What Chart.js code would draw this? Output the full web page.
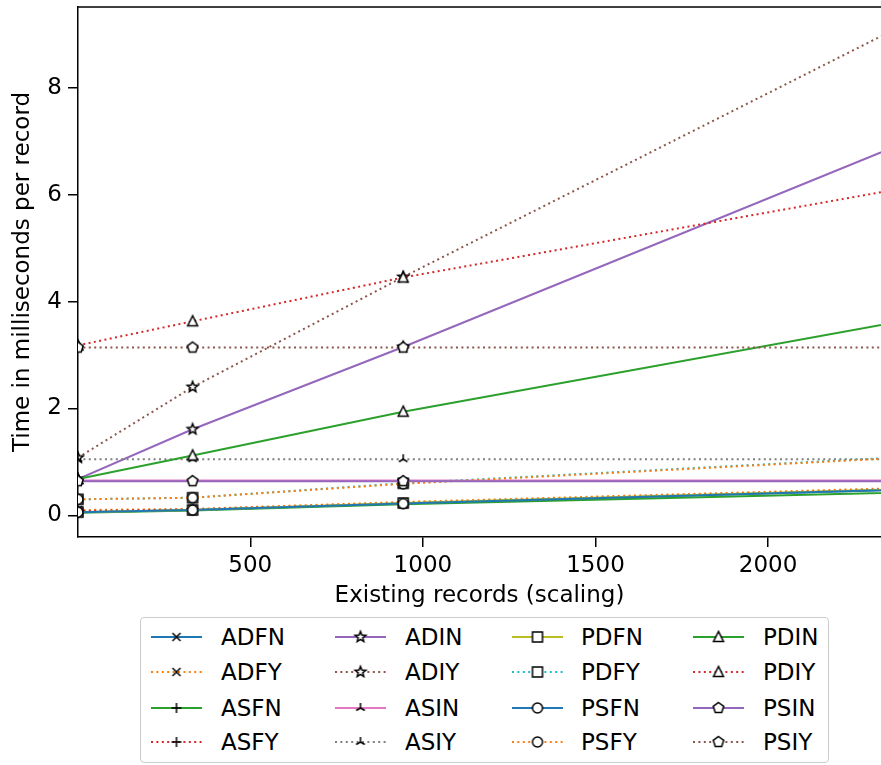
<!DOCTYPE html>
<html>
<head>
<meta charset="utf-8">
<script src="https://cdn.jsdelivr.net/npm/chart.js@4.4.0/dist/chart.umd.min.js"></script>
<style>
    body { margin: 0; background: #fff; }
    #wrap { position: relative; width: 881px; height: 765px; overflow: hidden; }
    #legendBox {
        position: absolute; left: 140px; top: 617px; width: 689px; height: 146px;
        border: 1px solid #cccccc; border-radius: 4px; box-sizing: border-box; background: #fff;
    }
    .handle { position: absolute; }
    .label {
        position: absolute; font-family: 'DejaVu Sans'; font-size: 23px;
        line-height: 28px; height: 28px; color: #000; white-space: nowrap;
    }
</style>
</head>
<body>
<div id="wrap">
    <canvas id="timingChart" width="881" height="765"></canvas>
    <div id="legendBox"></div>
</div>
<script>
// existing records (x) and time per record (ms) for every run
const xValues = [1, 333, 943, 2600];
const xTicks = [500, 1000, 1500, 2000];
const yTicks = [0, 2, 4, 6, 8];

const ADFN = [0.06, 0.10, 0.22, 0.52];
const ADFY = [0.10, 0.12, 0.25, 0.55];
const ASFN = [0.05, 0.09, 0.21, 0.46];
const ASFY = [0.08, 0.11, 0.23, 0.53];
const ADIN = [0.68, 1.61, 3.15, 7.51];
const ADIY = [1.08, 2.40, 4.46, 9.85];
const ASIN = [0.65, 0.65, 0.65, 0.65];
const ASIY = [1.05, 1.05, 1.05, 1.05];
const PDFN = [0.06, 0.10, 0.23, 0.53];
const PDFY = [0.30, 0.33, 0.60, 1.16];
const PSFN = [0.06, 0.10, 0.22, 0.52];
const PSFY = [0.30, 0.33, 0.59, 1.15];
const PDIN = [0.68, 1.12, 1.94, 3.88];
const PDIY = [3.18, 3.63, 4.45, 6.36];
const PSIN = [0.64, 0.64, 0.64, 0.64];
const PSIY = [3.14, 3.14, 3.14, 3.14];

const seriesNames = ['ADFN', 'ADFY', 'ASFN', 'ASFY', 'ADIN', 'ADIY', 'ASIN', 'ASIY',
                     'PDFN', 'PDFY', 'PSFN', 'PSFY', 'PDIN', 'PDIY', 'PSIN', 'PSIY'];
const seriesValues = [ADFN, ADFY, ASFN, ASFY, ADIN, ADIY, ASIN, ASIY,
                      PDFN, PDFY, PSFN, PSFY, PDIN, PDIY, PSIN, PSIY];

// matplotlib default colour cycle
const colors = ['#1f77b4', '#ff7f0e', '#2ca02c', '#d62728', '#9467bd', '#8c564b',
                '#e377c2', '#7f7f7f', '#bcbd22', '#17becf'];
const markers = ['x', 'x', 'plus', 'plus', 'star', 'star', 'tri', 'tri',
                 'square', 'square', 'circle', 'circle', 'triangle', 'triangle', 'pentagon', 'pentagon'];
const dotted = [false, true, false, true, false, true, false, true,
                false, true, false, true, false, true, false, true];

const LINE_W = 2;
const DOTS = [2, 3.4];

function makeMarker(kind) {
    const c = document.createElement('canvas');
    c.width = 16;
    c.height = 16;
    const g = c.getContext('2d');
    g.translate(8, 8);
    g.lineWidth = 1.5;
    g.strokeStyle = '#000';
    g.fillStyle = '#fff';
    g.beginPath();
    let fill = true;
    if (kind === 'x') {
        g.moveTo(-4, -4); g.lineTo(4, 4);
        g.moveTo(-4, 4); g.lineTo(4, -4);
        fill = false;
    } else if (kind === 'plus') {
        g.moveTo(-5, 0); g.lineTo(5, 0);
        g.moveTo(0, -5); g.lineTo(0, 5);
        fill = false;
    } else if (kind === 'tri') {
        g.moveTo(0, 0); g.lineTo(0, -5);
        g.moveTo(0, 0); g.lineTo(-4.3, 2.5);
        g.moveTo(0, 0); g.lineTo(4.3, 2.5);
        fill = false;
    } else if (kind === 'star') {
        for (let i = 0; i < 10; i++) {
            const r = i % 2 ? 2.4 : 5.6;
            const a = -Math.PI / 2 + i * Math.PI / 5;
            if (i === 0) g.moveTo(r * Math.cos(a), r * Math.sin(a));
            else g.lineTo(r * Math.cos(a), r * Math.sin(a));
        }
        g.closePath();
    } else if (kind === 'square') {
        g.rect(-5, -5, 10, 10);
    } else if (kind === 'circle') {
        g.arc(0, 0, 5, 0, Math.PI * 2);
    } else if (kind === 'triangle') {
        g.moveTo(0, -5.5); g.lineTo(-5, 4.5); g.lineTo(5, 4.5);
        g.closePath();
    } else if (kind === 'pentagon') {
        for (let i = 0; i < 5; i++) {
            const a = -Math.PI / 2 + i * 2 * Math.PI / 5;
            if (i === 0) g.moveTo(5.5 * Math.cos(a), 5.5 * Math.sin(a));
            else g.lineTo(5.5 * Math.cos(a), 5.5 * Math.sin(a));
        }
        g.closePath();
    }
    if (fill) g.fill();
    g.stroke();
    return c;
}

const markerImgs = markers.map(makeMarker);

const datasets = seriesNames.map((name, i) => ({
    label: name,
    data: xValues.map((x, k) => ({ x: x, y: seriesValues[i][k] })),
    borderColor: colors[i % 10],
    backgroundColor: colors[i % 10],
    borderWidth: LINE_W,
    borderDash: dotted[i] ? DOTS : [],
    pointStyle: markerImgs[i],
    pointRadius: 5,
    tension: 0,
    fill: false,
    clip: 0,
    order: seriesNames.length - 1 - i
}));

const font = { family: 'DejaVu Sans', size: 23 };
Chart.defaults.color = '#000';
Chart.defaults.font.family = 'DejaVu Sans';

const topSpine = {
    id: 'topSpine',
    afterDraw(chart) {
        const { ctx, chartArea } = chart;
        ctx.save();
        ctx.strokeStyle = '#000';
        ctx.lineWidth = 1.5;
        ctx.beginPath();
        ctx.moveTo(chartArea.left - 0.75, chartArea.top);
        ctx.lineTo(chartArea.right, chartArea.top);
        ctx.stroke();
        ctx.restore();
    }
};

const ctx = document.getElementById('timingChart').getContext('2d');
const chart = new Chart(ctx, {
    type: 'line',
    data: { datasets: datasets },
    options: {
        responsive: false,
        animation: false,
        devicePixelRatio: 1,
        events: [],
        layout: { autoPadding: false, padding: { top: 7, right: 0, bottom: 155, left: 0 } },
        plugins: {
            legend: { display: false },
            tooltip: { enabled: false }
        },
        scales: {
            x: {
                type: 'linear',
                min: 1,
                max: 2327,
                afterBuildTicks: s => { s.ticks = xTicks.map(v => ({ value: v })); },
                afterFit: s => {
                    s.height = 73;
                    s.paddingLeft = 0;
                    s.paddingRight = 0;
                },
                ticks: { font: font, padding: 5, maxRotation: 0, autoSkip: false, callback: v => String(v) },
                grid: { drawOnChartArea: false, drawTicks: true, tickLength: 10, color: '#000', lineWidth: 1.5 },
                border: { display: true, color: '#000', width: 1.5 },
                title: { display: true, text: 'Existing records (scaling)', font: font, padding: { top: 0, bottom: 0 } }
            },
            y: {
                type: 'linear',
                min: -0.405,
                max: 9.51,
                afterBuildTicks: s => { s.ticks = yTicks.map(v => ({ value: v })); },
                afterFit: s => {
                    s.width = 78;
                    s.paddingTop = 0;
                    s.paddingBottom = 0;
                },
                ticks: { font: font, padding: 6, callback: v => String(v) },
                grid: { drawOnChartArea: false, drawTicks: true, tickLength: 10, color: '#000', lineWidth: 1.5 },
                border: { display: true, color: '#000', width: 1.5 },
                title: { display: true, text: 'Time in milliseconds per record', font: font, padding: { top: 9, bottom: 0 } }
            }
        }
    },
    plugins: [topSpine]
});

// legend: 4 columns, filled column by column like the original
const handleX = [151, 335, 512, 693];
const textX = [221, 405, 581, 763];
const rowY = [637, 672, 708, 742];
const wrap = document.getElementById('wrap');

seriesNames.forEach((name, i) => {
    const col = Math.floor(i / 4);
    const row = i % 4;
    const h = document.createElement('canvas');
    h.className = 'handle';
    h.width = 51;
    h.height = 24;
    h.style.left = handleX[col] + 'px';
    h.style.top = (rowY[row] - 12) + 'px';
    const g = h.getContext('2d');
    g.strokeStyle = colors[i % 10];
    g.lineWidth = LINE_W;
    g.setLineDash(dotted[i] ? DOTS : []);
    g.beginPath();
    g.moveTo(0, 12);
    g.lineTo(51, 12);
    g.stroke();
    g.drawImage(markerImgs[i], 25.5 - 8, 12 - 8);
    wrap.appendChild(h);

    const t = document.createElement('span');
    t.className = 'label';
    t.textContent = name;
    t.style.left = textX[col] + 'px';
    t.style.top = (rowY[row] - 14) + 'px';
    wrap.appendChild(t);
});
</script>
</body>
</html>
